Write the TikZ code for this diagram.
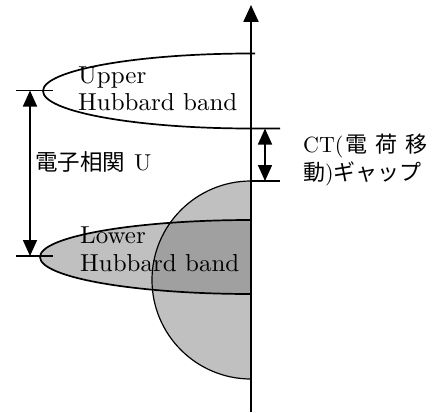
\documentclass[tikz,border=0pt]{standalone}
\usepackage{fontspec}
\setmainfont{lmroman10-regular.otf}
\newfontfamily\jp{Noto Sans CJK JP}
\usetikzlibrary{arrows.meta}
\definecolor{bandgray}{HTML}{C0C0C0}
\definecolor{overgray}{HTML}{A0A0A0}
\newcommand\wx[1]{\scalebox{1.02}[1]{#1}}
\tikzset{
  lbl/.style={anchor=base west, inner sep=0pt, font=\fontsize{24.5}{28}\selectfont},
  outline/.style={line width=1.7pt},
  thinline/.style={line width=1.2pt},
  dimarrow/.style={line width=1.6pt, {Triangle[width=14pt,length=16pt]}-{Triangle[width=14pt,length=16pt]}},
  tick/.style={line width=1.6pt},
}
\begin{document}
\begin{tikzpicture}[x=1pt,y=-1pt]
\useasboundingbox (0,0) rectangle (443,412);
% half circle (density of states)
\fill[bandgray] (251,181) arc[start angle=90,end angle=270,radius=99pt] -- cycle;
% lower Hubbard band
\fill[bandgray] (251,220) arc[start angle=90,end angle=270,x radius=211pt,y radius=37pt] -- cycle;
\begin{scope}
  \clip (251,181) arc[start angle=90,end angle=270,radius=99pt] -- cycle;
  \fill[overgray] (251,220) arc[start angle=90,end angle=270,x radius=211pt,y radius=37pt] -- cycle;
\end{scope}
\draw[thinline] (251,181) arc[start angle=90,end angle=270,radius=99pt];
\draw[outline] (251,220) arc[start angle=90,end angle=270,x radius=211pt,y radius=37pt];
% upper Hubbard band
\draw[outline] (255,53.5) -- (251,53.5) arc[start angle=90,end angle=270,x radius=208pt,y radius=37.5pt] -- (280,128.5);
% CT gap tick
\draw[tick] (251,181) -- (280,181);
% axis
\coordinate (axb) at (251,412);
\coordinate (axt) at (251,5);
\draw[line width=2.2pt, -{Triangle[width=15pt,length=17pt]}] (axb) -- (axt);
% U arrow
\coordinate (ut) at (30,90.5);
\coordinate (ub) at (30,256);
\draw[tick] (16,90.5) -- (53,90.5);
\draw[tick] (16,256) -- (53,256);
\draw[dimarrow] (ut) -- (ub);
% CT arrow
\coordinate (ct) at (265,128.5);
\coordinate (cb) at (265,181);
\draw[dimarrow] (ct) -- (cb);
% labels
\node[lbl] (up1) at (78,83) {\wx{Upper}};
\node[lbl] (up2) at (78,110) {\wx{Hubbard band}};
\node[lbl] (lo1) at (80,243) {\wx{Lower}};
\node[lbl] (lo2) at (80,271) {\wx{Hubbard band}};
\node[lbl] (ulab) at (35,170) {{\fontsize{22.5}{26}\jp 電子相関}\hspace{9pt}{\fontsize{23}{26}\selectfont U}};
\node[lbl] (ct1) at (303,152) {{\fontsize{22}{26}\selectfont CT(}\hspace{2pt}{\fontsize{22}{26}\jp 電\hspace{8pt}荷\hspace{8pt}移}};
\node[lbl] (ct2) at (303,180) {{\fontsize{22}{26}\jp 動}{\fontsize{22}{26}\selectfont )}{\fontsize{22}{26}\jp ギャップ}};
\end{tikzpicture}
\end{document}
